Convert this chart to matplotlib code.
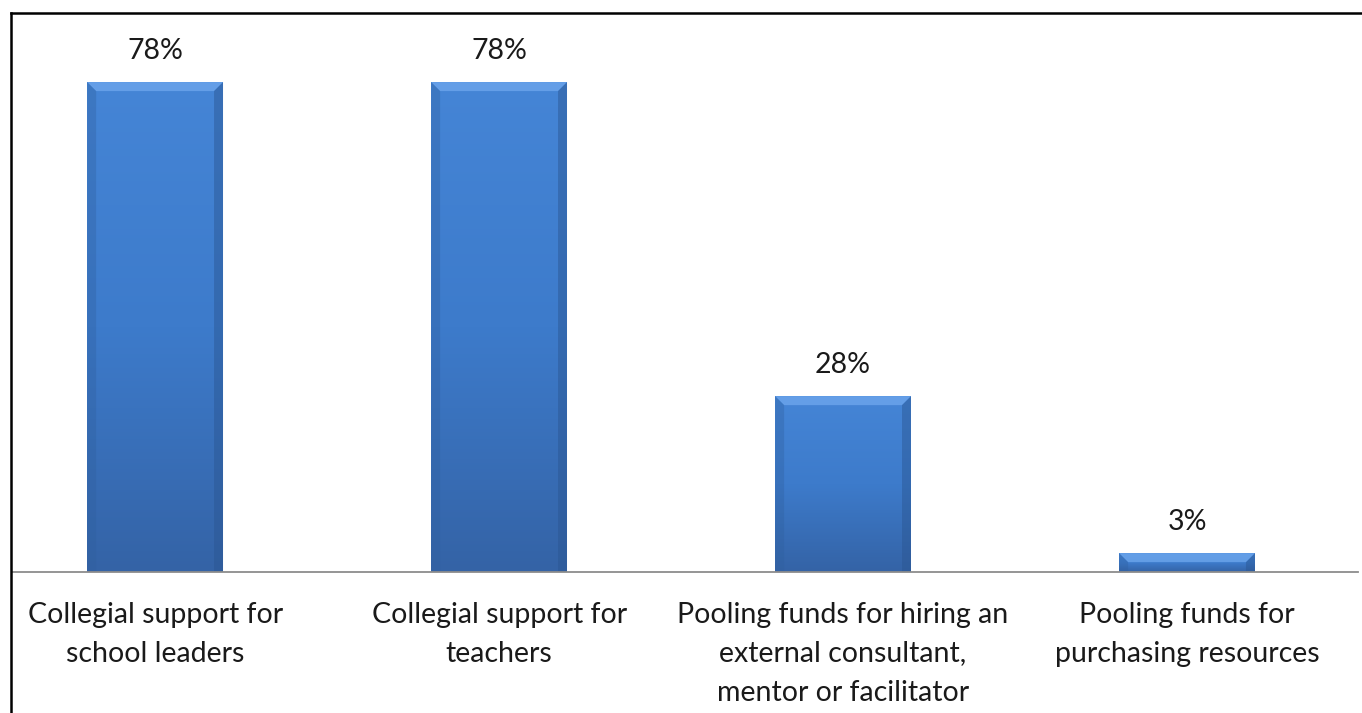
import matplotlib.pyplot as plt
import matplotlib.colors as mcolors
import numpy as np
from matplotlib.patches import Polygon
from matplotlib.lines import Line2D

# Share of respondents for each form of collaboration
categories = [
    "Collegial support for\nschool leaders",
    "Collegial support for\nteachers",
    "Pooling funds for hiring an\nexternal consultant,\nmentor or facilitator",
    "Pooling funds for\npurchasing resources",
]
values = [78, 78, 28, 3]
value_labels = ["78%", "78%", "28%", "3%"]

plt.rcParams['font.family'] = ['Lato', 'DejaVu Sans']

W, H = 1362, 713
fig = plt.figure(figsize=(W / 100, H / 100), dpi=100)

# plot area: x 12..1358 px, y 13..572 px
ax = fig.add_axes([12 / W, (H - 572) / H, (1358 - 12) / W, (572 - 13) / H])
ax.set_xlim(-0.416, 3.497)
ax.set_ylim(0, 89)

bar_w = 0.395
x = np.arange(len(categories))
bars = ax.bar(x, values, width=bar_w, color='#3c78c6', edgecolor='none', zorder=2)

# vertical gradient inside each bar, plus a bevelled rim
grad_cmap = mcolors.LinearSegmentedColormap.from_list('bar', ['#3463a6', '#3d7bcb', '#4585d6'])
grad = np.linspace(0, 1, 256).reshape(-1, 1)
px_x = 1 / 344.0          # data units per pixel, x
px_y = 89 / 559.0         # data units per pixel, y
for rect in bars:
    x0, y0 = rect.get_x(), rect.get_y()
    w, h = rect.get_width(), rect.get_height()
    im = ax.imshow(grad, cmap=grad_cmap, origin='lower', aspect='auto',
                   extent=(x0, x0 + w, y0, y0 + h), zorder=2.1)
    im.set_clip_path(rect)
    bx = min(9 * px_x, w / 4)
    by = min(9 * px_y, h / 2)
    top = y0 + h
    # lighter top bevel
    ax.add_patch(Polygon([(x0, top), (x0 + w, top), (x0 + w - bx, top - by), (x0 + bx, top - by)],
                         closed=True, facecolor='#6fa8ee', edgecolor='none', alpha=0.75, zorder=2.2))
    # darker side bevels
    ax.add_patch(Polygon([(x0, top), (x0 + bx, top - by), (x0 + bx, y0), (x0, y0)],
                         closed=True, facecolor='#2f5f9e', edgecolor='none', alpha=0.35, zorder=2.2))
    ax.add_patch(Polygon([(x0 + w, top), (x0 + w - bx, top - by), (x0 + w - bx, y0), (x0 + w, y0)],
                         closed=True, facecolor='#2a5590', edgecolor='none', alpha=0.45, zorder=2.2))

for xi, v, lab in zip(x, values, value_labels):
    ax.text(xi, v + 5.0, lab, ha='center', va='center', fontsize=20.5, color='#1a1a1a')

for xi, cat in zip(x, categories):
    ax.text(xi, -4.7, cat, ha='center', va='top', fontsize=20.5, color='#1a1a1a',
            linespacing=1.62)

for side in ['top', 'right', 'left']:
    ax.spines[side].set_visible(False)
ax.spines['bottom'].set_color('#8c8c8c')
ax.spines['bottom'].set_linewidth(1.3)
ax.set_xticks([])
ax.set_yticks([])

# chart frame along the top and left edges
fig.add_artist(Line2D([11 / W, 1], [(H - 13) / H, (H - 13) / H], color='black', linewidth=1.8))
fig.add_artist(Line2D([11 / W, 11 / W], [0, (H - 13) / H], color='black', linewidth=1.8))

fig.savefig('out.png', dpi=100)
